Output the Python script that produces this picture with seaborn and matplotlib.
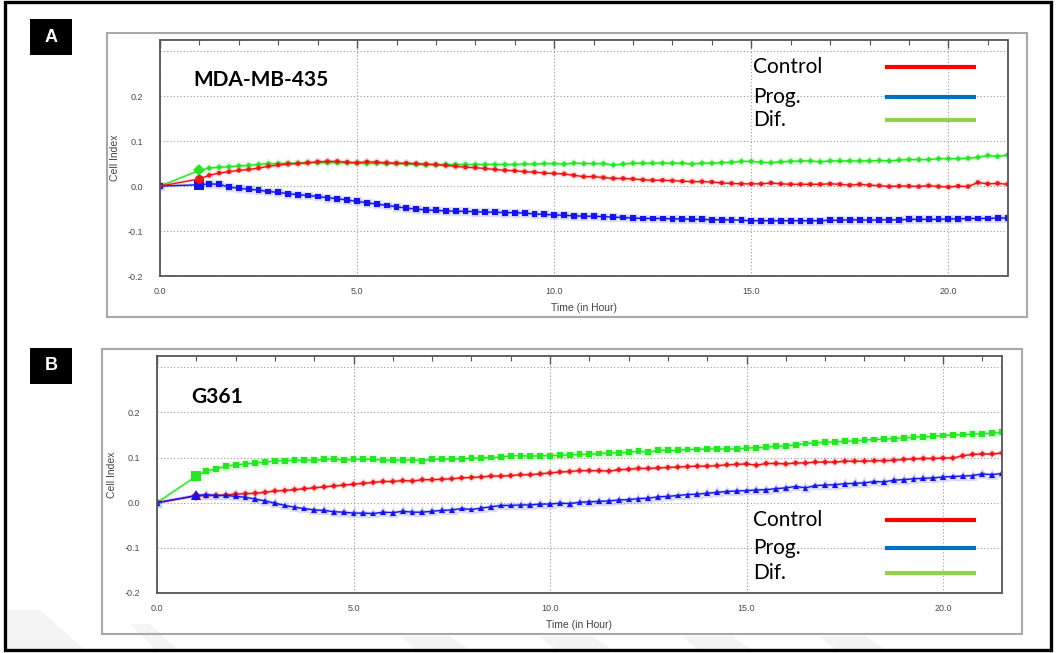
import matplotlib
matplotlib.use("Agg")
import matplotlib.pyplot as plt
import matplotlib.patheffects as pe
from matplotlib.patches import Rectangle, Polygon
from matplotlib.lines import Line2D
from matplotlib.ticker import MultipleLocator, FormatStrFormatter, FuncFormatter
import seaborn as sns

# Measurement times (h): baseline, then every 15 min from 1 h
hours = [0.0,
         1.0, 1.25, 1.5, 1.75, 2.0, 2.25, 2.5, 2.75, 3.0, 3.25, 3.5, 3.75,
         4.0, 4.25, 4.5, 4.75, 5.0, 5.25, 5.5, 5.75, 6.0, 6.25, 6.5, 6.75,
         7.0, 7.25, 7.5, 7.75, 8.0, 8.25, 8.5, 8.75, 9.0, 9.25, 9.5, 9.75,
         10.0, 10.25, 10.5, 10.75, 11.0, 11.25, 11.5, 11.75, 12.0, 12.25, 12.5, 12.75,
         13.0, 13.25, 13.5, 13.75, 14.0, 14.25, 14.5, 14.75, 15.0, 15.25, 15.5, 15.75,
         16.0, 16.25, 16.5, 16.75, 17.0, 17.25, 17.5, 17.75, 18.0, 18.25, 18.5, 18.75,
         19.0, 19.25, 19.5, 19.75, 20.0, 20.25, 20.5, 20.75, 21.0, 21.25, 21.5]

# MDA-MB-435 cell index
mda_control = [0.000,
               0.016, 0.024, 0.029, 0.032, 0.035, 0.037, 0.040, 0.044, 0.047, 0.049, 0.050, 0.052,
               0.054, 0.055, 0.055, 0.053, 0.052, 0.054, 0.053, 0.052, 0.051, 0.051, 0.050, 0.049,
               0.048, 0.046, 0.044, 0.042, 0.041, 0.039, 0.037, 0.035, 0.034, 0.032, 0.031, 0.029,
               0.028, 0.027, 0.024, 0.021, 0.021, 0.019, 0.017, 0.017, 0.016, 0.014, 0.013, 0.013,
               0.012, 0.011, 0.010, 0.010, 0.009, 0.007, 0.006, 0.005, 0.005, 0.005, 0.007, 0.005,
               0.004, 0.004, 0.004, 0.004, 0.005, 0.004, 0.002, 0.004, 0.002, 0.001, -0.001, 0.000,
               0.000, -0.001, 0.001, -0.001, -0.002, 0.000, -0.001, 0.008, 0.005, 0.006, 0.004]
mda_prog = [0.000,
            0.003, 0.005, 0.004, -0.002, -0.005, -0.007, -0.009, -0.012, -0.014, -0.017, -0.019, -0.021,
            -0.023, -0.026, -0.028, -0.031, -0.034, -0.037, -0.040, -0.043, -0.046, -0.049, -0.051, -0.053,
            -0.054, -0.055, -0.056, -0.056, -0.057, -0.058, -0.058, -0.059, -0.059, -0.060, -0.062, -0.063,
            -0.064, -0.065, -0.066, -0.067, -0.067, -0.068, -0.069, -0.070, -0.071, -0.072, -0.072, -0.072,
            -0.073, -0.073, -0.074, -0.074, -0.075, -0.075, -0.075, -0.076, -0.077, -0.077, -0.077, -0.077,
            -0.077, -0.077, -0.077, -0.077, -0.076, -0.076, -0.075, -0.075, -0.076, -0.075, -0.075, -0.075,
            -0.074, -0.074, -0.074, -0.074, -0.073, -0.073, -0.072, -0.072, -0.072, -0.071, -0.071]
mda_dif = [0.000,
           0.035, 0.040, 0.042, 0.043, 0.045, 0.046, 0.048, 0.050, 0.050, 0.051, 0.051, 0.052,
           0.052, 0.052, 0.052, 0.052, 0.051, 0.050, 0.051, 0.050, 0.050, 0.049, 0.048, 0.047,
           0.047, 0.048, 0.048, 0.048, 0.048, 0.048, 0.048, 0.048, 0.048, 0.049, 0.049, 0.050,
           0.050, 0.049, 0.051, 0.050, 0.050, 0.050, 0.047, 0.049, 0.051, 0.051, 0.051, 0.051,
           0.051, 0.051, 0.049, 0.051, 0.051, 0.052, 0.053, 0.055, 0.055, 0.053, 0.052, 0.054,
           0.055, 0.056, 0.056, 0.054, 0.056, 0.056, 0.056, 0.056, 0.056, 0.057, 0.056, 0.058,
           0.059, 0.059, 0.059, 0.061, 0.061, 0.061, 0.062, 0.064, 0.068, 0.066, 0.069]

# G361 cell index
g361_control = [0.000,
                0.015, 0.016, 0.016, 0.017, 0.019, 0.020, 0.021, 0.023, 0.026, 0.027, 0.029, 0.031,
                0.033, 0.035, 0.037, 0.039, 0.041, 0.043, 0.045, 0.047, 0.047, 0.049, 0.048, 0.051,
                0.051, 0.052, 0.053, 0.055, 0.056, 0.057, 0.059, 0.059, 0.060, 0.062, 0.062, 0.064,
                0.066, 0.068, 0.069, 0.071, 0.071, 0.071, 0.070, 0.073, 0.074, 0.076, 0.076, 0.077,
                0.078, 0.079, 0.080, 0.081, 0.081, 0.082, 0.084, 0.085, 0.086, 0.083, 0.087, 0.087,
                0.086, 0.088, 0.088, 0.090, 0.090, 0.090, 0.092, 0.092, 0.092, 0.093, 0.093, 0.094,
                0.096, 0.097, 0.098, 0.098, 0.099, 0.099, 0.104, 0.107, 0.108, 0.108, 0.110]
g361_prog = [0.000,
             0.016, 0.018, 0.016, 0.016, 0.014, 0.012, 0.008, 0.004, -0.001, -0.006, -0.010, -0.013,
             -0.016, -0.017, -0.020, -0.021, -0.023, -0.023, -0.024, -0.021, -0.022, -0.019, -0.021, -0.021,
             -0.019, -0.017, -0.016, -0.013, -0.015, -0.012, -0.009, -0.006, -0.006, -0.005, -0.005, -0.003,
             -0.003, -0.001, -0.002, 0.001, 0.002, 0.003, 0.004, 0.006, 0.007, 0.009, 0.010, 0.013,
             0.014, 0.016, 0.018, 0.019, 0.021, 0.023, 0.025, 0.026, 0.027, 0.028, 0.029, 0.031,
             0.033, 0.036, 0.033, 0.038, 0.039, 0.040, 0.042, 0.043, 0.044, 0.047, 0.046, 0.050,
             0.051, 0.053, 0.054, 0.055, 0.057, 0.058, 0.059, 0.060, 0.064, 0.062, 0.065]
g361_dif = [0.000,
            0.059, 0.070, 0.075, 0.081, 0.084, 0.086, 0.088, 0.090, 0.093, 0.093, 0.094, 0.094,
            0.094, 0.096, 0.097, 0.094, 0.096, 0.096, 0.096, 0.094, 0.094, 0.094, 0.095, 0.093,
            0.096, 0.096, 0.097, 0.097, 0.099, 0.099, 0.100, 0.101, 0.104, 0.104, 0.103, 0.104,
            0.104, 0.105, 0.106, 0.107, 0.107, 0.109, 0.110, 0.110, 0.112, 0.114, 0.112, 0.116,
            0.116, 0.116, 0.118, 0.118, 0.119, 0.119, 0.119, 0.119, 0.121, 0.122, 0.123, 0.125,
            0.126, 0.128, 0.131, 0.133, 0.134, 0.135, 0.136, 0.137, 0.139, 0.140, 0.141, 0.142,
            0.144, 0.145, 0.146, 0.147, 0.149, 0.150, 0.151, 0.152, 0.153, 0.154, 0.156]

legend_labels = ["Control", "Prog.", "Dif."]
legend_colors = ["#ff0000", "#0070c0", "#92d050"]
x_label = "Time (in Hour)"
y_label = "Cell Index"

W, H = 1057, 653


def fig_rect(x0, y0, x1, y1):
    """Pixel box (top-left origin) -> figure fraction rect."""
    return [x0 / W, 1 - y1 / H, (x1 - x0) / W, (y1 - y0) / H]


sns.set_theme(style="white")
plt.rcParams['font.family'] = ['Liberation Sans', 'DejaVu Sans']

fig = plt.figure(figsize=(W / 100, H / 100), dpi=100)
fig.patch.set_facecolor("white")

RED, BLUE, GREEN = "#f01414", "#1414f0", "#22e822"

# faint diagonal stripes along the bottom edge of the page
stripes = [[(8, 610), (40, 610), (85, 650), (8, 650)],
           [(130, 624), (150, 624), (178, 650), (156, 650)],
           [(400, 636), (450, 636), (470, 650), (416, 650)],
           [(540, 636), (592, 636), (612, 650), (556, 650)],
           [(682, 636), (732, 636), (752, 650), (698, 650)],
           [(820, 636), (866, 636), (886, 650), (836, 650)]]
for pts in stripes:
    fig.add_artist(Polygon([(x / W, 1 - y / H) for x, y in pts], closed=True,
                           transform=fig.transFigure, facecolor='#f4f4f4',
                           edgecolor='none', zorder=-1))


def y_fmt(v, pos):
    if v > 0.25:
        return ""
    if abs(v) < 1e-9:
        v = 0.0
    return f"{v:.1f}"


def style_axes(ax):
    ax.set_xlim(0, 21.5)
    ax.set_ylim(-0.2, 0.325)
    ax.xaxis.set_major_locator(MultipleLocator(5))
    ax.xaxis.set_minor_locator(MultipleLocator(1))
    ax.yaxis.set_major_locator(MultipleLocator(0.1))
    ax.yaxis.set_minor_locator(MultipleLocator(0.01))
    ax.xaxis.set_major_formatter(FormatStrFormatter('%.1f'))
    ax.yaxis.set_major_formatter(FuncFormatter(y_fmt))
    ax.tick_params(which='both', direction='in', top=True, right=False,
                   color='#555555', labelcolor='#4a4a4a', labelsize=6.5)
    ax.tick_params(which='major', length=6, width=1.0)
    ax.tick_params(which='minor', length=3.5, width=0.8)
    ax.tick_params(axis='y', which='both', pad=12)
    ax.tick_params(axis='x', which='both', pad=8)
    ax.grid(True, which='major', color='#9a9a9a', linestyle=(0, (1, 2)), linewidth=0.8)
    for s in ax.spines.values():
        s.set_color('#555555')
        s.set_linewidth(1.3)
    ax.set_xlabel(x_label, fontsize=7.5, color='#444444', labelpad=5)
    ax.set_ylabel(y_label, fontsize=7.5, color='#444444', labelpad=6)


def draw_series(ax, values, color, marker, ms, big_ms):
    sns.lineplot(x=hours, y=values, ax=ax, color=color, marker=marker,
                 markersize=ms, markeredgewidth=0, linewidth=1.0,
                 legend=False, sort=False)
    line = ax.lines[-1]
    line.set_path_effects([pe.Stroke(linewidth=2.4, foreground=color, alpha=0.15),
                           pe.Normal()])
    # first reading after seeding is drawn with a larger symbol
    ax.plot(hours[1], values[1], marker=marker, ms=big_ms, color=color,
            mew=0, linestyle='none')


panels = [
    dict(letter="A", title="MDA-MB-435",
         box=(107, 33, 1027, 317), axes=(160, 40, 1007.5, 276),
         letter_box=(30, 19, 72, 55), title_xy=(0.039, 0.83),
         legend_y=(67, 97, 120),
         series=[(mda_dif, GREEN, 'D', 3.0, 6.5),
                 (mda_prog, BLUE, 's', 4.2, 7.5),
                 (mda_control, RED, 'o', 3.2, 6.5)]),
    dict(letter="B", title="G361",
         box=(102, 349, 1022, 634), axes=(157, 356, 1002, 593),
         letter_box=(30, 348, 72, 384), title_xy=(0.041, 0.827),
         legend_y=(520, 548, 573),
         series=[(g361_dif, GREEN, 's', 4.2, 7.5),
                 (g361_control, RED, 'D', 3.0, 5.0),
                 (g361_prog, BLUE, '^', 4.2, 7.5)]),
]

for p in panels:
    # light grey frame around each instrument plot
    fr = fig_rect(*p["box"])
    fig.add_artist(Rectangle(fr[:2], fr[2], fr[3], transform=fig.transFigure,
                             fill=False, edgecolor='#a8a8a8', linewidth=1.5))
    ax = fig.add_axes(fig_rect(*p["axes"]))
    ax.set_facecolor('white')
    for vals, col, mk, ms, bms in p["series"]:
        draw_series(ax, vals, col, mk, ms, bms)
    style_axes(ax)
    ax.text(p["title_xy"][0], p["title_xy"][1], p["title"], transform=ax.transAxes,
            fontsize=15, fontweight='bold', family=['Lato', 'DejaVu Sans'],
            color='black', va='center', ha='left')

    # panel letter tile
    lb = fig_rect(*p["letter_box"])
    fig.add_artist(Rectangle(lb[:2], lb[2], lb[3], transform=fig.transFigure,
                             facecolor='black', edgecolor='none'))
    fig.text(lb[0] + lb[2] / 2, lb[1] + lb[3] / 2, p["letter"], color='white',
             fontsize=13, fontweight='bold', ha='center', va='center',
             family=['Liberation Sans', 'DejaVu Sans'])

    # legend: label text and a coloured bar for each group
    for lab, col, yy in zip(legend_labels, legend_colors, p["legend_y"]):
        fig.text(753 / W, 1 - yy / H, lab, fontsize=15, color='black',
                 family=['Lato', 'DejaVu Sans'], ha='left', va='center')
        fig.add_artist(Line2D([885 / W, 976 / W], [1 - yy / H, 1 - yy / H],
                              transform=fig.transFigure, color=col,
                              linewidth=3, solid_capstyle='butt'))

# outer frame of the figure
ob = fig_rect(5, 2, 1051, 650)
fig.add_artist(Rectangle(ob[:2], ob[2], ob[3], transform=fig.transFigure,
                         fill=False, edgecolor='black', linewidth=2.4))

fig.savefig("out.png", dpi=100, facecolor='white')
